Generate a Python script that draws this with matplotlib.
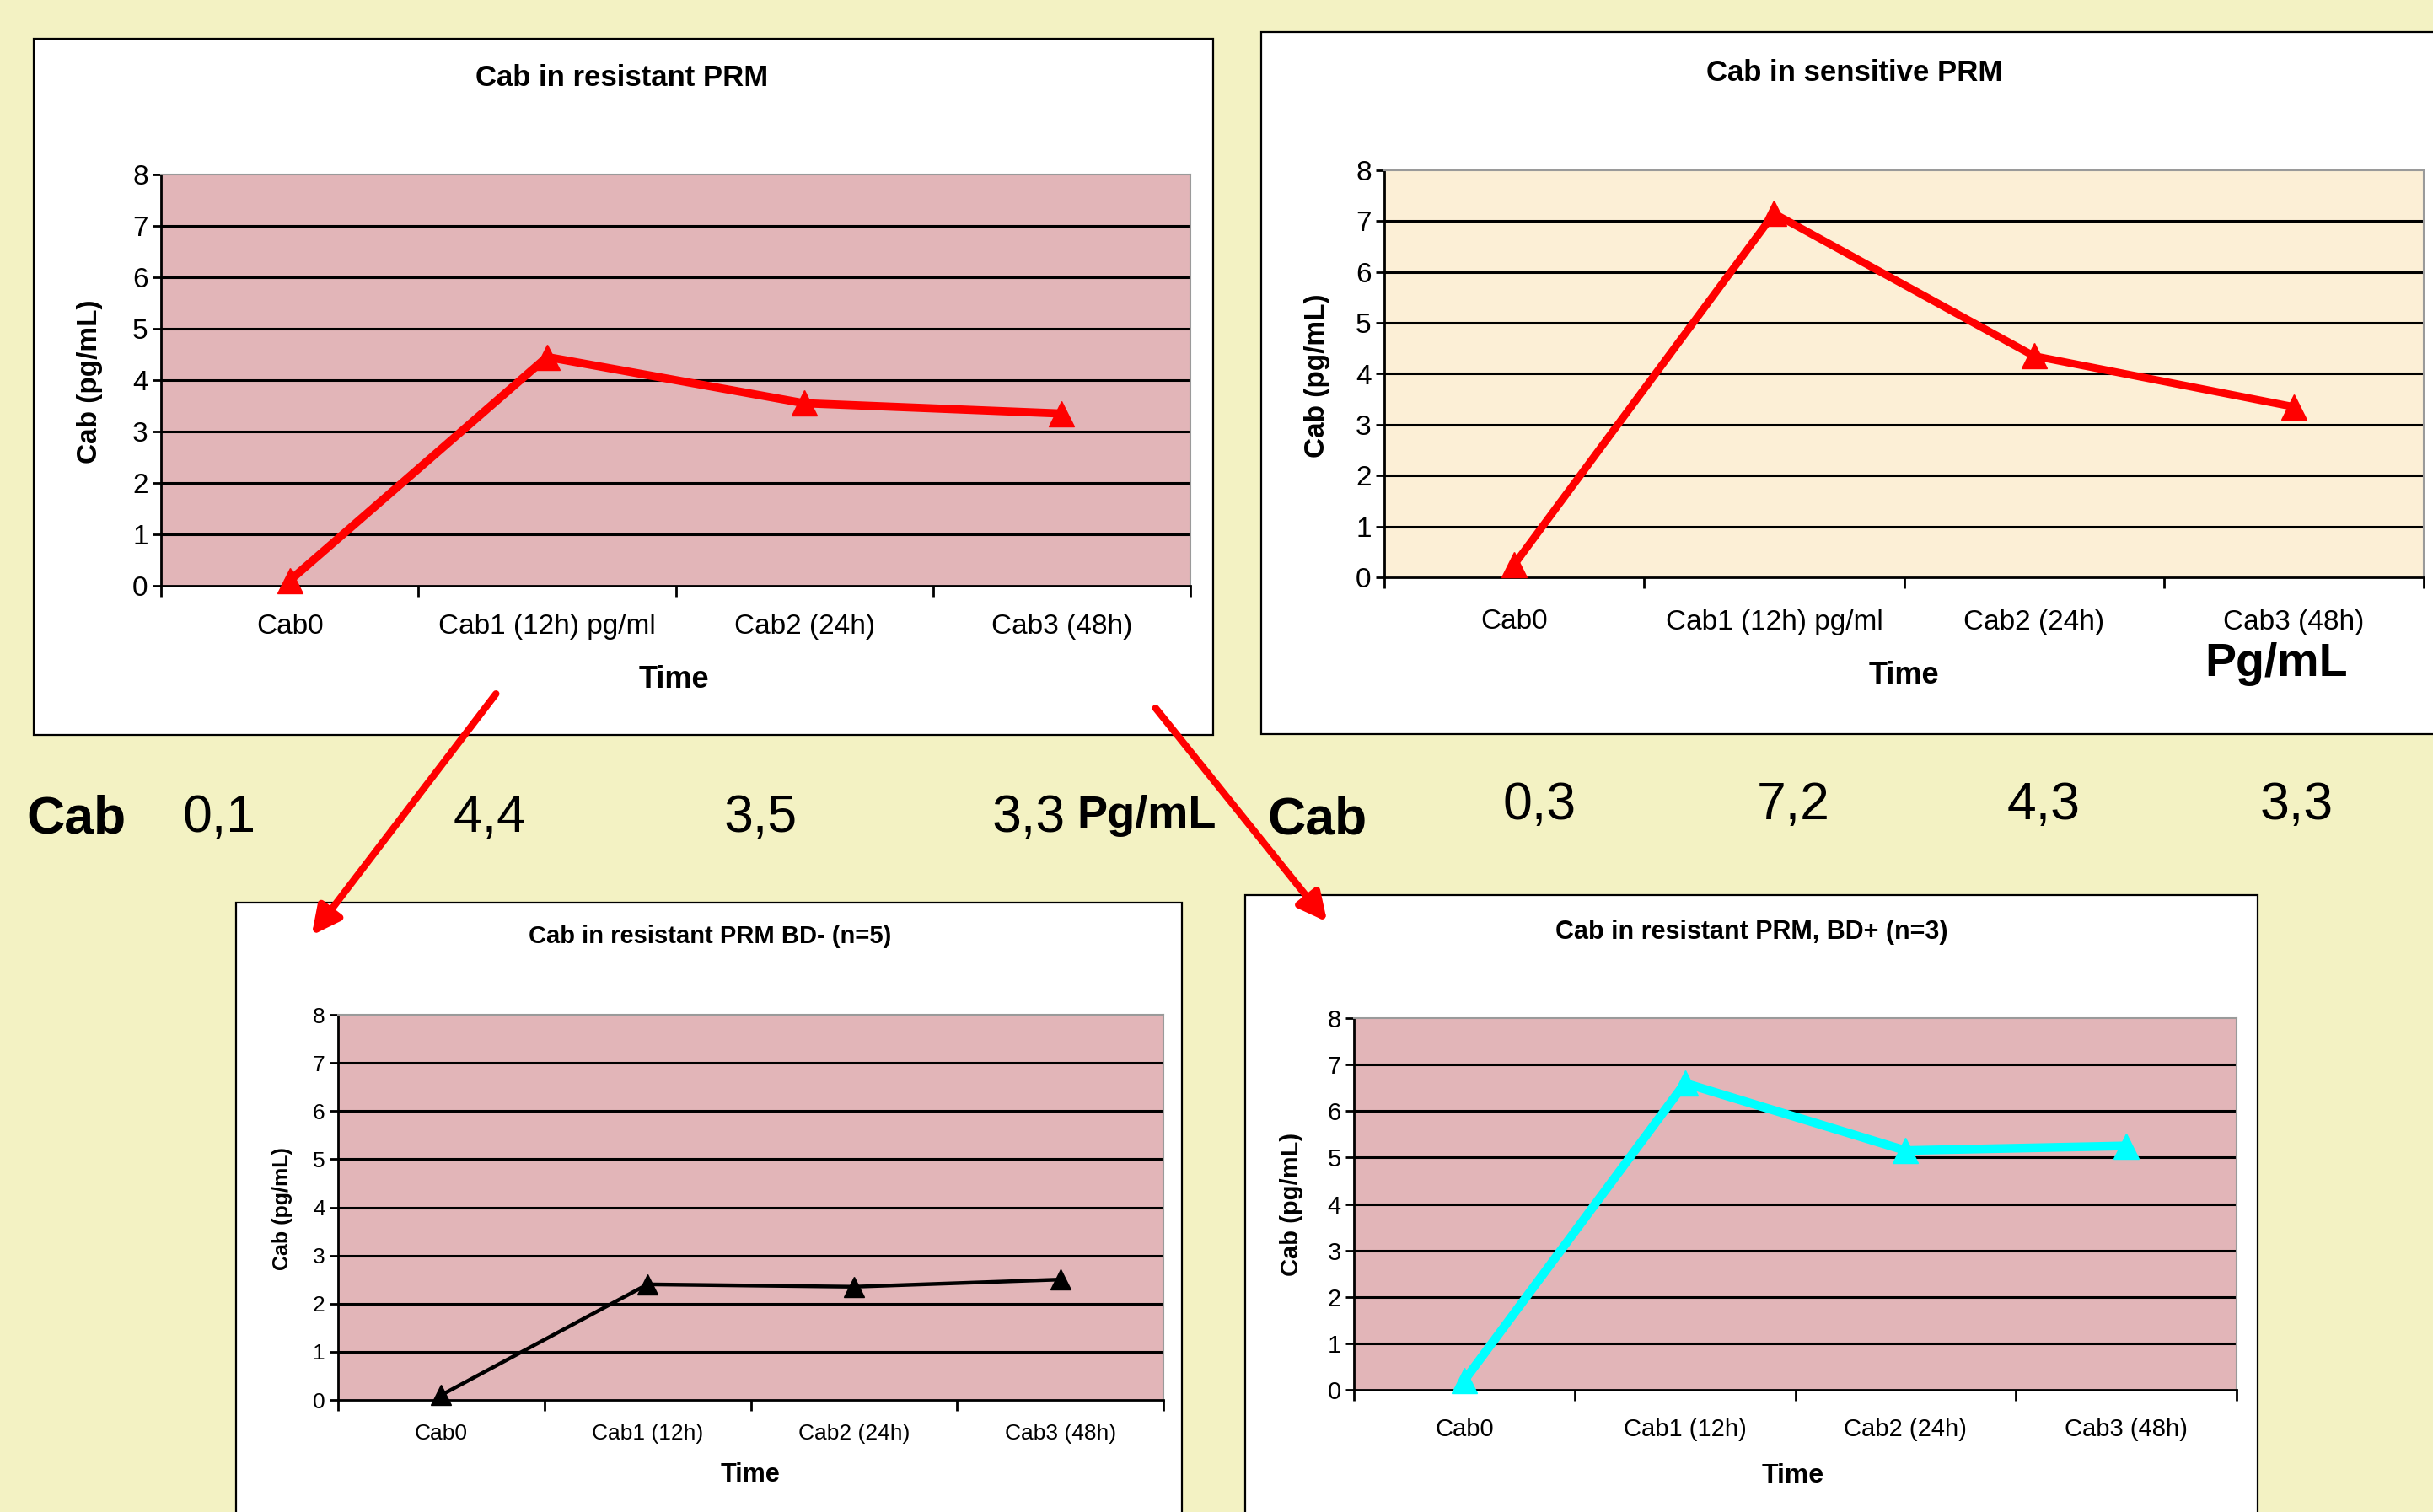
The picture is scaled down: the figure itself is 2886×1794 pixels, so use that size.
import matplotlib
matplotlib.use("Agg")
import matplotlib.pyplot as plt
from matplotlib.patches import Rectangle, FancyArrowPatch

# canvas in pixels, positions below are given in pixels from the top-left corner
W, H = 2886, 1794
DPI = 100

cats_long = ["Cab0", "Cab1 (12h) pg/ml", "Cab2 (24h)", "Cab3 (48h)"]
cats_short = ["Cab0", "Cab1 (12h)", "Cab2 (24h)", "Cab3 (48h)"]
resistant = [0.1, 4.45, 3.55, 3.35]
sensitive = [0.25, 7.15, 4.35, 3.35]
resistant_bd_neg = [0.1, 2.4, 2.35, 2.5]
resistant_bd_pos = [0.2, 6.6, 5.15, 5.25]
resistant_txt = ["0,1", "4,4", "3,5", "3,3"]
sensitive_txt = ["0,3", "7,2", "4,3", "3,3"]
yticks = list(range(0, 9))

NARROW = ["Liberation Sans Narrow", "Liberation Sans", "DejaVu Sans"]
WIDE = ["Liberation Sans", "DejaVu Sans"]

BG = "#F3F2C3"
PINK = "#E2B5B8"
CREAM = "#FCEFD6"


def fx(x):
    return x / W


def fy(y):
    return 1 - y / H


def rect(x0, y0, x1, y1):
    return [fx(x0), fy(y1), (x1 - x0) / W, (y1 - y0) / H]


def panel(fig, box, area, title, title_xy, ylab_xy, time_xy, cats, values,
          color, lw, ms, face, fs_tick, fs_title, fs_ylab, xpad):
    # white chart frame
    bx0, by0, bx1, by1 = box
    fig.add_artist(Rectangle((fx(bx0), fy(by1)), (bx1 - bx0) / W, (by1 - by0) / H,
                             transform=fig.transFigure, facecolor="white",
                             edgecolor="black", lw=1.6, zorder=-1))
    ax = fig.add_axes(rect(*area))
    ax.set_facecolor(face)
    ax.set_xlim(0, 4)
    ax.set_ylim(0, 8)
    ax.hlines(yticks[1:-1], 0, 4, colors="black", lw=2.2, zorder=1)
    xs = [i + 0.5 for i in range(len(values))]
    ax.plot(xs, values, color=color, lw=lw, marker="^", ms=ms,
            clip_on=False, zorder=3)

    ax.set_yticks(yticks)
    ax.set_yticklabels([str(t) for t in yticks], family=NARROW, fontsize=fs_tick)
    ax.set_xticks(range(5))
    ax.set_xticklabels([])
    ax.set_xticks(xs, minor=True)
    ax.set_xticklabels(cats, minor=True, family=NARROW, fontsize=fs_tick)
    ax.tick_params(axis="y", direction="out", length=7, width=2, pad=4)
    ax.tick_params(axis="x", which="major", direction="out", length=9, width=2)
    ax.tick_params(axis="x", which="minor", length=0, pad=xpad)

    for s in ("top", "right"):
        ax.spines[s].set_color("#9a9a9a")
        ax.spines[s].set_linewidth(1.5)
    for s in ("left", "bottom"):
        ax.spines[s].set_color("black")
        ax.spines[s].set_linewidth(2)

    fig.text(fx(title_xy[0]), fy(title_xy[1]), title, ha="center", va="center",
             family=NARROW, fontweight="bold", fontsize=fs_title)
    fig.text(fx(ylab_xy[0]), fy(ylab_xy[1]), "Cab (pg/mL)", ha="center",
             va="center", rotation=90, family=WIDE, fontweight="bold",
             fontsize=fs_ylab)
    fig.text(fx(time_xy[0]), fy(time_xy[1]), "Time", ha="center", va="center",
             family=NARROW, fontweight="bold", fontsize=fs_title + 1)
    return ax


fig = plt.figure(figsize=(W / DPI, H / DPI), dpi=DPI)
fig.patch.set_facecolor(BG)

panel(fig, (40, 46, 1439, 872), (191, 207, 1412, 695), "Cab in resistant PRM",
      (738, 93), (107, 453), (799, 806), cats_long, resistant,
      "#FF0000", 7, 22, PINK, 24, 25, 24, 24)

panel(fig, (1496, 38, 2900, 871), (1642, 202, 2875, 685), "Cab in sensitive PRM",
      (2200, 87), (1563, 446), (2258, 801), cats_long, sensitive,
      "#FF0000", 6.5, 22, CREAM, 24, 25, 24, 27)

panel(fig, (280, 1071, 1402, 1820), (401, 1204, 1380, 1661),
      "Cab in resistant PRM BD- (n=5)", (842, 1111), (335, 1434), (890, 1750),
      cats_short, resistant_bd_neg, "black", 3.2, 17, PINK, 19, 21, 18, 20)

panel(fig, (1477, 1062, 2678, 1820), (1606, 1208, 2653, 1649),
      "Cab in resistant PRM, BD+ (n=3)", (2078, 1106), (1532, 1429), (2127, 1751),
      cats_short, resistant_bd_pos, "#00FFFF", 7.5, 22, PINK, 21, 22, 21, 24)

# big value row between the charts
fig.text(fx(2700), fy(788), "Pg/mL", ha="center", va="center", family=WIDE,
         fontweight="bold", fontsize=40)

fig.text(fx(90), fy(972), "Cab", ha="center", va="center", family=WIDE,
         fontweight="bold", fontsize=45)
for x, t in zip([260, 581, 902, 1220], resistant_txt):
    fig.text(fx(x), fy(970), t, ha="center", va="center", family=WIDE, fontsize=45)
fig.text(fx(1360), fy(968), "Pg/mL", ha="center", va="center", family=WIDE,
         fontweight="bold", fontsize=39)

fig.text(fx(1562), fy(973), "Cab", ha="center", va="center", family=WIDE,
         fontweight="bold", fontsize=45)
for x, t in zip([1826, 2127, 2424, 2724], sensitive_txt):
    fig.text(fx(x), fy(955), t, ha="center", va="center", family=WIDE, fontsize=45)

# red arrows from the top-left chart down to the split charts
for (x0, y0), (x1, y1) in [((590, 821), (368, 1112)), ((1369, 838), (1576, 1096))]:
    fig.add_artist(FancyArrowPatch((fx(x0), fy(y0)), (fx(x1), fy(y1)),
                                   transform=fig.transFigure, arrowstyle="-|>",
                                   mutation_scale=50, color="#FF0000", lw=6,
                                   zorder=5))

fig.savefig("out.png", dpi=DPI, facecolor=BG)
